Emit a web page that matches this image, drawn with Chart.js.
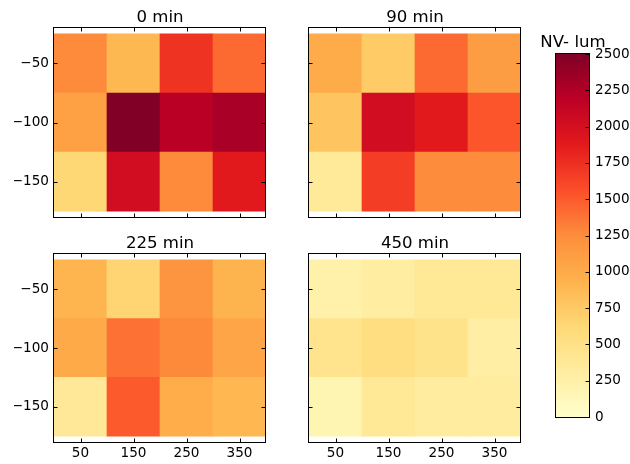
<!DOCTYPE html>
<html lang="en">
<head>
    <meta charset="UTF-8">
    <title>NV- lum maps</title>
    <script src="https://cdn.jsdelivr.net/npm/chart.js"></script>
    <style>
        html, body { margin: 0; padding: 0; background: #fff; }
        #wrap { position: relative; width: 630px; height: 464px; }
        #wrap canvas { position: absolute; left: 0; top: 0; }
    </style>
</head>
<body>
    <div id="wrap">
        <canvas id="p0" width="630" height="464"></canvas>
        <canvas id="p1" width="630" height="464"></canvas>
        <canvas id="p2" width="630" height="464"></canvas>
        <canvas id="p3" width="630" height="464"></canvas>
        <canvas id="cb" width="630" height="464"></canvas>
    </div>

    <script>
        // grid of cells (centres) and tick labels
        const xCenters = [50, 150, 250, 350];
        const yCenters = [-50, -100, -150];
        const xTicks = [50, 150, 250, 350];
        const yTicks = [-50, -100, -150];
        const cbTicks = [0, 250, 500, 750, 1000, 1250, 1500, 1750, 2000, 2250, 2500];
        const panelTitles = ["0 min", "90 min", "225 min", "450 min"];
        const cbLabel = "NV- lum";
        const lumMin = 0;
        const lumMax = 2500;

        // one row per y centre (-50, -100, -150), one column per x centre
        const lum0 = [
            [1260, 890, 1725, 1425],
            [1090, 2500, 2200, 2295],
            [630, 2025, 1260, 1885]
        ];
        const lum90 = [
            [1000, 740, 1425, 1115],
            [795, 2030, 1890, 1530],
            [360, 1665, 1250, 1250]
        ];
        const lum225 = [
            [910, 655, 1190, 925],
            [1005, 1385, 1265, 1035],
            [375, 1505, 980, 900]
        ];
        const lum450 = [
            [245, 295, 390, 390],
            [455, 545, 470, 290],
            [175, 390, 330, 330]
        ];
        const panelValues = [lum0, lum90, lum225, lum450];

        const FONT = "DejaVu Sans";
        const CELL_W = 100, CELL_H = 50;

        // YlOrRd
        const ylorrd = [[255,255,204],[255,237,160],[254,217,118],[254,178,76],[253,141,60],[252,78,42],[227,26,28],[189,0,38],[128,0,38]];
        function cmap(v) {
            let t = Math.max(0, Math.min(1, (v - lumMin) / (lumMax - lumMin))) * 8;
            let i = Math.min(7, Math.floor(t));
            let f = t - i;
            const a = ylorrd[i], b = ylorrd[i + 1];
            const c = a.map((ch, k) => Math.round(ch + (b[k] - ch) * f));
            return `rgb(${c[0]},${c[1]},${c[2]})`;
        }

        function line(ctx, x1, y1, x2, y2) {
            ctx.beginPath(); ctx.moveTo(x1, y1); ctx.lineTo(x2, y2); ctx.stroke();
        }

        // black frame with inward ticks (matplotlib classic look)
        const framePlugin = {
            id: "frame",
            afterDraw(chart, args, opts) {
                const { ctx, chartArea: a, scales } = chart;
                const L = a.left - 0.5, R = a.right - 0.5, T = a.top - 0.5, B = a.bottom + 0.5;
                ctx.save();
                ctx.strokeStyle = "#000";
                ctx.lineWidth = 1;
                (opts.xTicks || []).forEach(v => {
                    const px = Math.round(scales.x.getPixelForValue(v)) + 0.5;
                    line(ctx, px, T, px, T + 4);
                    line(ctx, px, B, px, B - 4);
                });
                (opts.yTicks || []).forEach(v => {
                    const py = Math.round(scales.y.getPixelForValue(v)) + 0.5;
                    if (opts.leftTicks) line(ctx, L, py, L + 4, py);
                    line(ctx, R, py, R - 4, py);
                });
                ctx.strokeRect(L, T, R - L, B - T);
                ctx.restore();
            }
        };

        // colour bar fill, mapped through the y scale
        const gradientPlugin = {
            id: "gradient",
            beforeDraw(chart) {
                const { ctx, chartArea: a, scales } = chart;
                const y0 = scales.y.getPixelForValue(lumMin);
                const y1 = scales.y.getPixelForValue(lumMax);
                const g = ctx.createLinearGradient(0, y0, 0, y1);
                ylorrd.forEach((c, i) => g.addColorStop(i / 8, `rgb(${c[0]},${c[1]},${c[2]})`));
                ctx.save();
                ctx.fillStyle = g;
                ctx.fillRect(a.left, y1, a.right - a.left, y0 - y1);
                ctx.restore();
            }
        };

        function cellsFor(values) {
            const out = [];
            yCenters.forEach((yc, r) => {
                xCenters.forEach((xc, c) => {
                    out.push({ x: [xc - CELL_W / 2, xc + CELL_W / 2], y: yc, v: values[r][c] });
                });
            });
            return out;
        }

        const tickFont = { family: FONT, size: 13.6 };
        const titleFont = { family: FONT, size: 16.6, weight: "normal" };
        const minus = v => String(v).replace("-", "\u2212");

        // axes boxes [left, top, right, bottom] in page pixels
        const panels = [
            { id: "p0", box: [54, 28, 266, 217], yLabels: true, xLabels: false },
            { id: "p1", box: [309, 28, 521, 217], yLabels: false, xLabels: false },
            { id: "p2", box: [54, 254, 266, 442], yLabels: true, xLabels: true },
            { id: "p3", box: [309, 254, 521, 442], yLabels: false, xLabels: true }
        ];
        const YW = 40, XH = 20, TITLE_H = 19.92;

        panels.forEach((p, i) => {
            const [L, T, R, B] = p.box;
            new Chart(document.getElementById(p.id), {
                type: "bar",
                data: {
                    datasets: [{
                        data: cellsFor(panelValues[i]),
                        backgroundColor: ctx => cmap(ctx.raw.v),
                        borderWidth: 0,
                        categoryPercentage: 1,
                        barPercentage: 1,
                        grouped: false
                    }]
                },
                options: {
                    indexAxis: "y",
                    responsive: false,
                    animation: false,
                    layout: { padding: { left: L - YW, right: 630 - R, top: T - TITLE_H, bottom: 464 - B - XH } },
                    plugins: {
                        legend: { display: false },
                        tooltip: { enabled: false },
                        title: {
                            display: true, text: panelTitles[i], color: "#000",
                            font: titleFont, fullSize: false, padding: { top: 0, bottom: 0 }
                        },
                        frame: { xTicks: xTicks, yTicks: yTicks, leftTicks: true }
                    },
                    scales: {
                        x: {
                            type: "linear", min: 0, max: 400,
                            afterBuildTicks: s => { s.ticks = xTicks.map(v => ({ value: v })); },
                            afterFit: s => { s.height = XH; },
                            grid: { display: false, drawTicks: false },
                            border: { display: false },
                            ticks: { display: p.xLabels, padding: 3, color: "#000", font: tickFont }
                        },
                        y: {
                            type: "linear", min: -180, max: -20, offset: false,
                            afterBuildTicks: s => { s.ticks = yTicks.map(v => ({ value: v })); },
                            afterFit: s => { s.width = YW; },
                            grid: { display: false, drawTicks: false },
                            border: { display: false },
                            ticks: { display: p.yLabels, padding: 5, color: "#000", font: tickFont, callback: minus }
                        }
                    }
                },
                plugins: [framePlugin]
            });
        });

        // colour bar: a blank left axis of the same width keeps the title centred on the bar
        const CB_L = 556, CB_R = 590, CB_T = 54, CB_B = 417, CB_AX = 630 - CB_R;
        new Chart(document.getElementById("cb"), {
            type: "bar",
            data: { datasets: [] },
            options: {
                responsive: false,
                animation: false,
                layout: { padding: { left: CB_L - CB_AX, right: 0, top: CB_T - 21.3, bottom: 464 - CB_B } },
                plugins: {
                    legend: { display: false },
                    tooltip: { enabled: false },
                    title: {
                        display: true, text: cbLabel, color: "#000",
                        font: titleFont, padding: { top: 0, bottom: 1.4 }
                    },
                    frame: { xTicks: [], yTicks: cbTicks, leftTicks: false }
                },
                scales: {
                    x: { type: "linear", display: false, min: 0, max: 1 },
                    yl: {
                        type: "linear", position: "left", min: lumMin, max: lumMax,
                        afterFit: s => { s.width = CB_AX; },
                        grid: { display: false, drawTicks: false },
                        border: { display: false },
                        ticks: { display: false }
                    },
                    y: {
                        type: "linear", position: "right", min: lumMin, max: lumMax,
                        afterBuildTicks: s => { s.ticks = cbTicks.map(v => ({ value: v })); },
                        afterFit: s => { s.width = CB_AX; },
                        grid: { display: false, drawTicks: false },
                        border: { display: false },
                        ticks: { padding: 5, color: "#000", font: tickFont, callback: v => String(v) }
                    }
                }
            },
            plugins: [gradientPlugin, framePlugin]
        });
    </script>
</body>
</html>
